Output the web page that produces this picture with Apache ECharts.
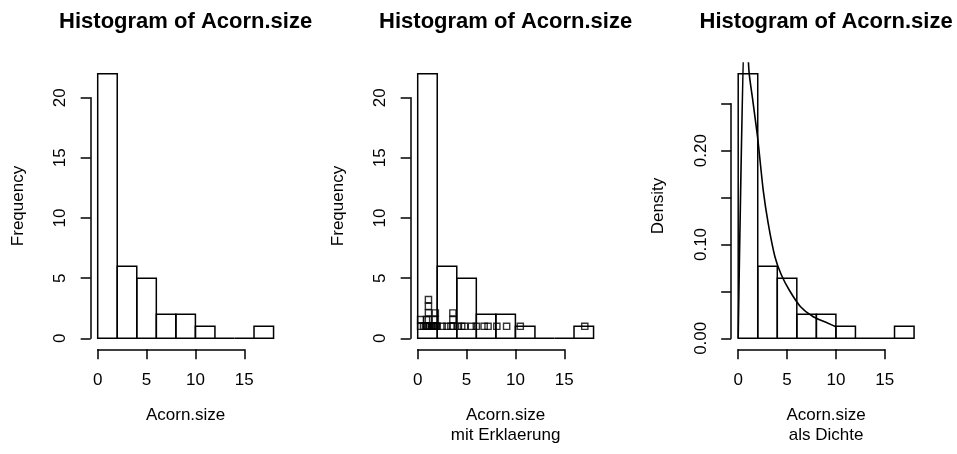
<!DOCTYPE html>
<html>
<head>
<meta charset="utf-8">
<script src="https://cdn.jsdelivr.net/npm/echarts@6/dist/echarts.min.js"></script>
<style>
  html, body { margin: 0; padding: 0; background: #ffffff; }
  #chart { width: 957px; height: 454px; }
</style>
</head>
<body>
<div id="chart"></div>
<script>
// Histogram bins of acorn size (right-closed intervals) and their counts
const binEdges = [0, 2, 4, 6, 8, 10, 12, 14, 16, 18];
const binCounts = [22, 6, 5, 2, 2, 1, 0, 0, 1];

// Individual acorn sizes (shown as a stacked strip chart in the middle panel)
const acornSize = [
  0.3, 0.3, 0.6, 0.8, 0.9, 0.9, 1.0, 1.1, 1.1, 1.1, 1.1, 1.1, 1.2, 1.4, 1.5,
  1.6, 1.7, 1.8, 1.8, 1.8, 1.9, 2.0,
  2.5, 3.0, 3.4, 3.6, 3.6, 3.6,
  4.1, 4.5, 4.8, 5.5, 6.0,
  6.8, 7.2,
  8.1, 9.1,
  10.5,
  17.1
];

// Fitted density curve over the density histogram: [size, density]
const densityCurve = [
  [0, 0], [0.75, 0.36], [1.1, 0.285], [1.5, 0.253], [2.0, 0.213], [2.56, 0.158],
  [3.07, 0.1226], [3.76, 0.087], [4.4, 0.068], [5.22, 0.0515], [6.38, 0.0337],
  [7.68, 0.023], [9.2, 0.016], [10.0, 0.0124]
];

const xTicks = [0, 5, 10, 15];
const countTicks = [0, 5, 10, 15, 20];
const densityTicks = [0, 0.05, 0.10, 0.15, 0.20, 0.25];

const titleText = 'Histogram of Acorn.size';
const xNames = ['Acorn.size', 'Acorn.size\nmit Erklaerung', 'Acorn.size\nals Dichte'];
const yNames = ['Frequency', 'Frequency', 'Density'];

// ---- layout (R base-graphics look: three panels side by side) ----
const FONT = '"Liberation Sans", Arial, Helvetica, sans-serif';
const FS = 17;
const LW = 1.5;
const panelShift = [0, 320, 640.5];
const zeroX = 97.7;             // pixel of x = 0 in the first panel
const sx = 9.77;                // pixels per unit of acorn size
const plotTop = 63.1, plotH = 285.8;
const axisLineY = 349.3;
const zeroY = 338.3;            // pixel of y = 0

const n = binCounts.reduce((a, b) => a + b, 0);
const binWidth = binEdges[1] - binEdges[0];
const xLo = binEdges[0], xHi = binEdges[binEdges.length - 1];
const xPad = 0.04 * (xHi - xLo);
const countMax = Math.max(...binCounts);
const densMax = countMax / (n * binWidth);

const bins = binCounts.map((c, i) => [binEdges[i], binEdges[i + 1], c]);
const densBins = binCounts.map((c, i) => [binEdges[i], binEdges[i + 1], c / (n * binWidth)]);

// strip chart: identical values are stacked upwards from y = 1
const STACK_STEP = 0.554;
const stackSeen = {};
const stripPoints = acornSize.map(v => {
  const k = stackSeen[v] = (stackSeen[v] || 0) + 1;
  return [v, 1 + (k - 1) * STACK_STEP];
});

function renderBin(params, api) {
  const a = api.coord([api.value(0), 0]);
  const b = api.coord([api.value(1), api.value(2)]);
  return {
    type: 'rect',
    shape: { x: a[0], y: b[1], width: b[0] - a[0], height: a[1] - b[1] },
    style: { fill: 'none', stroke: '#000', lineWidth: LW }
  };
}

const grid = [], xAxis = [], yAxis = [], series = [], graphic = [];
const hidden = { show: false };
const txt = { color: '#000', fontFamily: FONT, fontSize: FS };

for (let p = 0; p < 3; p++) {
  const x0 = zeroX + panelShift[p];
  const plotLeft = x0 - xPad * sx;
  const plotW = (xHi - xLo + 2 * xPad) * sx;
  const isDens = p === 2;
  const yMaxData = isDens ? densMax : countMax;
  const yPad = 0.04 * yMaxData;
  const sy = plotH / (yMaxData + 2 * yPad);
  const ticks = isDens ? densityTicks : countTicks;
  const tickTop = ticks[ticks.length - 1];
  const g = p * 3;

  // data area
  grid.push({ left: plotLeft, top: plotTop, width: plotW, height: plotH, containLabel: false });
  xAxis.push({
    gridIndex: g, type: 'value', min: xLo - xPad, max: xHi + xPad,
    axisLine: hidden, axisTick: hidden, axisLabel: hidden, splitLine: hidden,
    name: xNames[p], nameLocation: 'middle', nameGap: 55.85,
    nameTextStyle: Object.assign({ lineHeight: 20.5 }, txt)
  });
  yAxis.push({
    gridIndex: g, type: 'value', min: -yPad, max: yMaxData + yPad,
    axisLine: hidden, axisTick: hidden, axisLabel: hidden, splitLine: hidden,
    name: yNames[p], nameLocation: 'middle', nameGap: 62.15,
    nameTextStyle: Object.assign({ lineHeight: 20.5 }, txt)
  });

  // x axis spanning the tick range
  grid.push({ left: x0, top: axisLineY - 50, width: xTicks[xTicks.length - 1] * sx, height: 50 });
  xAxis.push({
    gridIndex: g + 1, type: 'value', position: 'bottom',
    min: xTicks[0], max: xTicks[xTicks.length - 1], interval: xTicks[1] - xTicks[0],
    axisLine: { show: true, lineStyle: { color: '#000', width: LW } },
    axisTick: { show: true, length: 10, lineStyle: { color: '#000', width: LW } },
    axisLabel: Object.assign({ margin: 23, showMinLabel: true, showMaxLabel: true }, txt),
    splitLine: hidden
  });
  yAxis.push({ gridIndex: g + 1, type: 'value', show: false, min: 0, max: 1 });

  // y axis spanning the tick range
  grid.push({ left: plotLeft, top: zeroY - tickTop * sy, width: 20, height: tickTop * sy });
  xAxis.push({ gridIndex: g + 2, type: 'value', show: false, min: 0, max: 1 });
  yAxis.push({
    gridIndex: g + 2, type: 'value', position: 'left',
    min: 0, max: tickTop, interval: ticks[1] - ticks[0],
    axisLine: { show: true, lineStyle: { color: '#000', width: LW } },
    axisTick: { show: true, length: 10, lineStyle: { color: '#000', width: LW } },
    axisLabel: Object.assign({
      margin: 21.4, rotate: 90, showMinLabel: true, showMaxLabel: true,
      formatter: isDens
        ? (v => (Math.round(v * 100) % 10 === 0 ? v.toFixed(2) : ''))
        : (v => String(v))
    }, txt),
    splitLine: hidden
  });

  series.push({
    type: 'custom', xAxisIndex: g, yAxisIndex: g,
    renderItem: renderBin, data: isDens ? densBins : bins,
    silent: true, animation: false
  });

  graphic.push({
    type: 'text', x: plotLeft + plotW / 2, y: 21.5,
    style: {
      text: titleText, align: 'center', verticalAlign: 'middle',
      fill: '#000', font: 'bold 22px ' + FONT
    }
  });
}

series.push({
  type: 'scatter', xAxisIndex: 3, yAxisIndex: 3, data: stripPoints,
  symbol: 'rect', symbolSize: 6.2,
  itemStyle: { color: 'rgba(0,0,0,0)', borderColor: '#000', borderWidth: 1.4 },
  silent: true, animation: false
});

series.push({
  type: 'line', xAxisIndex: 6, yAxisIndex: 6, data: densityCurve,
  showSymbol: false, smooth: 0.25, clip: true,
  lineStyle: { color: '#000', width: 1.6 },
  silent: true, animation: false
});

const chart = echarts.init(document.getElementById('chart'), null, { renderer: 'canvas' });
chart.setOption({
  backgroundColor: '#ffffff',
  animation: false,
  grid, xAxis, yAxis, series, graphic
});
</script>
</body>
</html>
